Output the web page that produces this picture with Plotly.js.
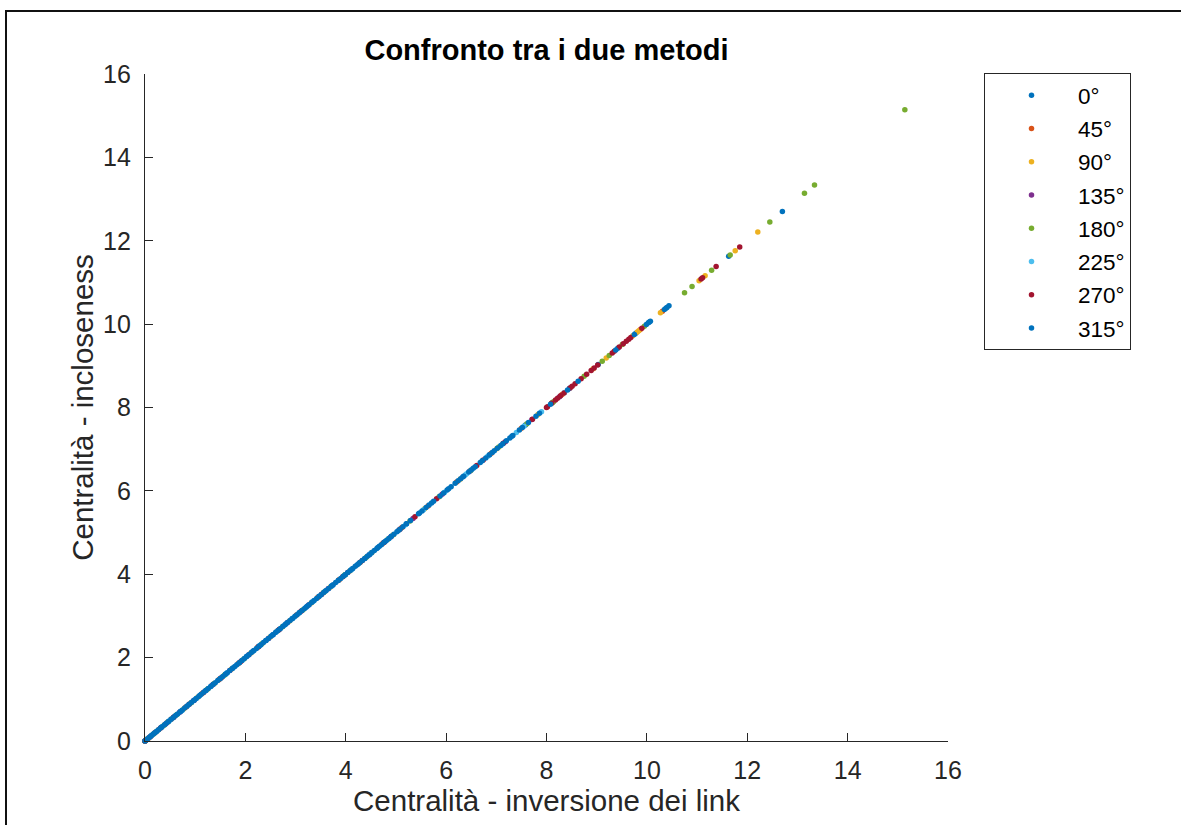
<!DOCTYPE html>
<html>
<head>
<meta charset="utf-8">
<script src="https://cdn.plot.ly/plotly-3.0.1.min.js"></script>
<style>
  html, body { margin: 0; padding: 0; background: #fff; }
  #wrap { position: relative; width: 1181px; height: 825px; overflow: hidden; }
  #chart { width: 1181px; height: 825px; }
  #frame { position: absolute; left: 5px; top: 10px; width: 1300px; height: 900px;
           border-left: 2px solid #111; border-top: 2px solid #111; pointer-events: none; }
</style>
</head>
<body>
<div id="wrap">
  <div id="chart"></div>
  <div id="frame"></div>
</div>
<script>
// Legend labels (angles)
const seriesNames = ["0°", "45°", "90°", "135°", "180°", "225°", "270°", "315°"];
const seriesColors = ["#0072BD", "#D95319", "#EDB120", "#7E2F8E", "#77AC30", "#4DBEEE", "#A2142F", "#0072BD"];

// Each point: centrality by link inversion (x) equals centrality by incloseness (y)
const s0 = [0, 0.04, 0.13, 0.21, 0.33, 0.46, 0.58, 0.71, 0.83, 0.97, 1.09, 1.22, 1.36, 1.49, 1.61, 1.75, 1.88, 2.02, 2.15, 2.27, 2.41, 2.55, 2.68, 2.81, 2.93, 3.07, 3.21, 3.34, 3.46, 3.59, 3.73, 3.86, 3.99, 4.12, 4.26, 4.38, 4.51, 4.64, 4.78, 4.91, 5.05, 5.21, 5.47, 5.71, 6.05, 6.33, 6.87, 7.31, 7.58, 8.12, 8.46, 9.03, 9.42, 9.78, 10.05, 10.38, 11.63, 12.70];
const s45 = [0, 0.08, 0.27, 0.52, 0.81, 1.14, 1.47, 1.86, 2.24, 2.63, 3.02, 3.44, 3.87, 4.29, 4.73, 5.12, 5.64, 6.21, 6.9, 7.5, 8.31, 9.87, 10.31];
const s90 = [0, 0.06, 0.22, 0.45, 0.77, 1.05, 1.38, 1.72, 2.11, 2.49, 2.88, 3.31, 3.69, 4.08, 4.52, 4.95, 5.57, 6.28, 7.01, 7.83, 8.11, 8.93, 9.19, 9.72, 9.81, 9.84, 10.27, 11.04, 11.16, 11.76, 12.21];
const s135 = [0, 0.07, 0.19, 0.41, 0.69, 0.98, 1.33, 1.69, 2.07, 2.46, 2.84, 3.26, 3.65, 4.04, 4.47, 4.89, 5.34, 5.92, 6.47, 7.18, 7.71, 8.26];
const s180 = [0, 0.05, 0.17, 0.38, 0.63, 0.92, 1.25, 1.58, 1.97, 2.33, 2.74, 3.15, 3.56, 3.98, 4.41, 4.84, 5.28, 5.86, 6.49, 7.05, 7.61, 8.14, 8.75, 9.11, 9.25, 9.51, 9.95, 10.75, 10.90, 11.29, 11.66, 12.45, 13.14, 13.34, 15.14];
const s225 = [0, 0.09, 0.24, 0.49, 0.74, 1.02, 1.31, 1.63, 1.94, 2.29, 2.62, 2.97, 3.35, 3.72, 4.11, 4.49, 4.86, 5.19, 5.55, 5.97, 6.38, 6.41, 6.83, 7.40, 7.55, 7.90, 8.36];
const s270 = [0, 0.11, 0.31, 0.57, 0.88, 1.17, 1.52, 1.91, 2.26, 2.67, 3.11, 3.52, 3.94, 4.33, 4.76, 5.08, 5.38, 5.81, 6.61, 6.74, 7.14, 7.72, 8.00, 8.02, 8.10, 8.18, 8.22, 8.28, 8.35, 8.47, 8.51, 8.57, 8.69, 8.80, 8.89, 8.95, 9.02, 9.31, 9.35, 9.45, 9.53, 9.59, 9.64, 9.68, 9.90, 11.08, 11.11, 11.38, 11.85];
const s315 = [0, 0.02, 0.05, 0.09, 0.12, 0.16, 0.19, 0.23, 0.27, 0.31, 0.34, 0.39, 0.43, 0.47, 0.52, 0.56, 0.61, 0.65, 0.70, 0.74, 0.79, 0.84, 0.88, 0.93, 0.98, 1.02, 1.07, 1.12, 1.17, 1.21, 1.26, 1.31, 1.36, 1.40, 1.45, 1.50, 1.55, 1.60, 1.64, 1.69, 1.74, 1.79, 1.83, 1.88, 1.93, 1.98, 2.03, 2.07, 2.12, 2.17, 2.22, 2.27, 2.31, 2.36, 2.41, 2.46, 2.51, 2.55, 2.60, 2.65, 2.70, 2.75, 2.79, 2.84, 2.89, 2.94, 2.99, 3.03, 3.08, 3.13, 3.18, 3.23, 3.27, 3.32, 3.37, 3.42, 3.47, 3.51, 3.56, 3.61, 3.66, 3.71, 3.75, 3.80, 3.85, 3.90, 3.95, 3.99, 4.04, 4.09, 4.14, 4.19, 4.23, 4.28, 4.33, 4.38, 4.43, 4.47, 4.52, 4.57, 4.62, 4.67, 4.71, 4.76, 4.81, 4.86, 4.91, 4.96, 5.02, 5.08, 5.14, 5.21, 5.29, 5.45, 5.52, 5.60, 5.66, 5.75, 5.88, 5.95, 6.02, 6.10, 6.18, 6.24, 6.29, 6.35, 6.45, 6.50, 6.54, 6.58, 6.68, 6.72, 6.79, 6.86, 6.92, 6.96, 7.02, 7.09, 7.13, 7.20, 7.27, 7.33, 7.46, 7.52, 7.64, 7.79, 7.86, 8.08, 8.42, 8.63, 9.38, 9.75, 9.99, 10.03, 10.07, 10.35, 10.40, 10.44];

const seriesData = [s0, s45, s90, s135, s180, s225, s270, s315];

const xTickVals = [0, 2, 4, 6, 8, 10, 12, 14, 16];
const yTickVals = [0, 2, 4, 6, 8, 10, 12, 14, 16];

const FONT = "Liberation Sans, Arial, sans-serif";

const traces = seriesData.map((vals, i) => ({
  type: "scatter",
  mode: "markers",
  name: seriesNames[i],
  x: vals,
  y: vals,
  legendgroup: "g" + i,
  cliponaxis: false,
  marker: { color: seriesColors[i], size: 5.5, line: { width: 0 } },
  hoverinfo: "x+y+name"
}));

const axisCommon = {
  range: [0, 16],
  autorange: false,
  showgrid: false,
  zeroline: false,
  showline: true,
  linecolor: "#262626",
  linewidth: 1.3,
  ticks: "inside",
  ticklen: 8,
  tickwidth: 1.3,
  tickcolor: "#262626",
  tickfont: { family: FONT, size: 25, color: "#262626" },
  automargin: false,
  fixedrange: true
};

const layout = {
  width: 1181,
  height: 825,
  margin: { l: 145, r: 233, t: 74, b: 84, pad: 0 },
  paper_bgcolor: "#ffffff",
  plot_bgcolor: "#ffffff",
  font: { family: FONT, color: "#262626" },
  title: {
    text: "<b>Confronto tra i due metodi</b>",
    font: { family: FONT, size: 29, color: "#000000" },
    x: 0.5, xref: "paper", xanchor: "center",
    y: 1 - 50 / 825, yref: "container", yanchor: "middle"
  },
  xaxis: Object.assign({}, axisCommon, {
    tickvals: xTickVals,
    ticktext: xTickVals.map(String),
    ticklabelstandoff: 7,
    title: { text: "Centralità - inversione dei link", font: { family: FONT, size: 29.5, color: "#262626" }, standoff: 6 }
  }),
  yaxis: Object.assign({}, axisCommon, {
    tickvals: yTickVals,
    ticktext: yTickVals.map(String),
    ticklabelstandoff: 8,
    title: { text: "Centralità - incloseness", font: { family: FONT, size: 29.5, color: "#262626" }, standoff: 0 }
  }),
  showlegend: true,
  legend: {
    x: (984 - 145) / 803,
    xref: "paper",
    xanchor: "left",
    y: (741 - 73) / 667,
    yanchor: "top",
    bgcolor: "#ffffff",
    bordercolor: "#262626",
    borderwidth: 1,
    font: { family: FONT, size: 22.5, color: "#000000" },
    traceorder: "grouped",
    tracegroupgap: 1,
    itemwidth: 83,
    itemsizing: "trace"
  },
  hovermode: "closest"
};

Plotly.newPlot("chart", traces, layout, { displayModeBar: false, staticPlot: false, responsive: false });
</script>
</body>
</html>
